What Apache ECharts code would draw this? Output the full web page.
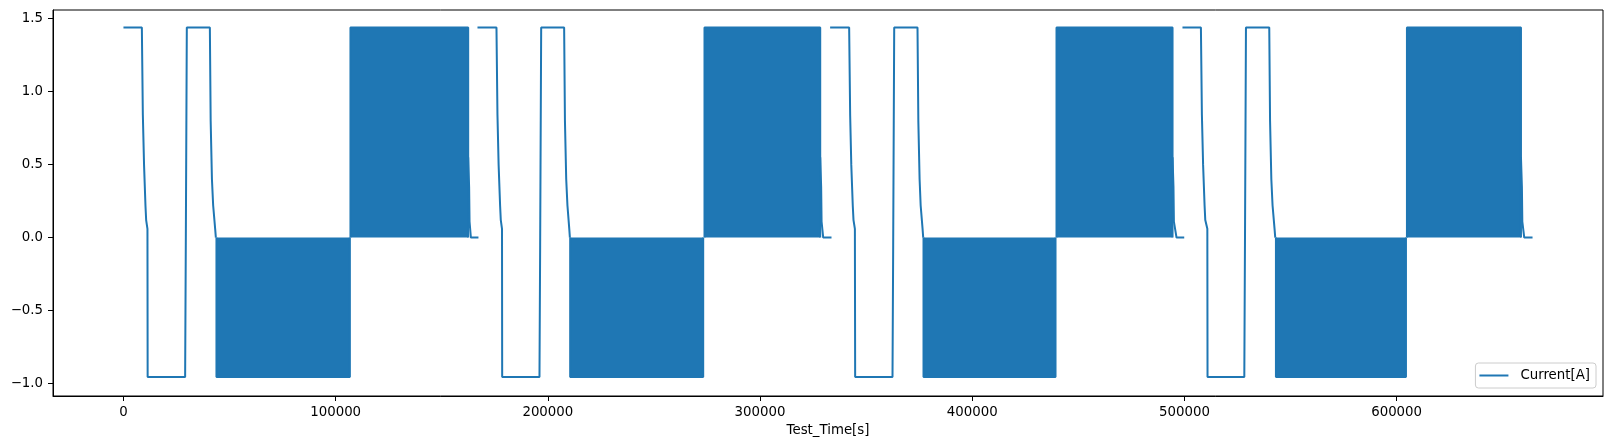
<!DOCTYPE html>
<html>
<head>
<meta charset="utf-8">
<script src="https://cdn.jsdelivr.net/npm/echarts@6/dist/echarts.min.js"></script>
<style>
  html, body { margin: 0; padding: 0; background: #fff; }
  #chart { width: 1613px; height: 448px; }
</style>
</head>
<body>
<div id="chart"></div>
<script>
// Tick labels
const xTicks = [0, 100000, 200000, 300000, 400000, 500000, 600000];
const yTicks = [-1.0, -0.5, 0.0, 0.5, 1.0, 1.5];

// Sparse (non-pulsed) parts of the Current[A] trace; null = break in the line
const lineTime = [
  // cycle 1
  0, 8670, 9140, 9700, 10370, 10700, 11310, 11400, 29070, 29380, 29860, 40720, 41100, 41700, 42280, 43220, 43550, 43830, 43830,
  162460, 162900, 163100, 163730, 167300, 167300,
  // cycle 2
  166840, 175790, 176260, 176800, 177500, 177830, 178400, 178480, 196060, 196380, 196860, 207680, 208060, 208660, 209240, 210100, 210390, 210530, 210530,
  328360, 328800, 329000, 329770, 333680, 333680,
  // cycle 3
  333030, 342000, 342470, 343000, 343700, 344050, 344700, 344830, 362430, 362750, 363230, 374210, 374600, 375200, 375700, 376600, 376900, 377040, 377040,
  494400, 494840, 495040, 496280, 499910, 499910,
  // cycle 4
  499080, 507770, 508240, 508800, 509500, 509830, 510800, 510890, 528220, 528530, 529000, 539980, 540360, 540960, 541540, 542480, 542800, 543130, 543130,
  658600, 659040, 659240, 660150, 664060
];
const lineCurrent = [
  1.44, 1.44, 0.84, 0.50, 0.22, 0.12, 0.06, -0.955, -0.955, -0.05, 1.44, 1.44, 0.80, 0.40, 0.22, 0.06, 0, 0, null,
  0.55, 0.35, 0.11, 0, 0, null,
  1.44, 1.44, 0.84, 0.50, 0.22, 0.12, 0.06, -0.955, -0.955, -0.05, 1.44, 1.44, 0.80, 0.40, 0.22, 0.06, 0, 0, null,
  0.55, 0.35, 0.11, 0, 0, null,
  1.44, 1.44, 0.84, 0.50, 0.22, 0.12, 0.06, -0.955, -0.955, -0.05, 1.44, 1.44, 0.80, 0.40, 0.22, 0.06, 0, 0, null,
  0.55, 0.35, 0.11, 0, 0, null,
  1.44, 1.44, 0.84, 0.50, 0.22, 0.12, 0.06, -0.955, -0.955, -0.05, 1.44, 1.44, 0.80, 0.40, 0.22, 0.06, 0, 0, null,
  0.55, 0.35, 0.11, 0, 0
];

// Densely pulsed periods (unresolvable at this scale: solid bands between 0 and the pulse level)
const pulseStart = [43830, 106980, 210530, 273830, 377040, 439720, 543130, 604870];
const pulseEnd   = [106700, 162460, 273210, 328360, 439250, 494400, 604400, 658600];
const pulseLevel = [-0.955, 1.44, -0.955, 1.44, -0.955, 1.44, -0.955, 1.44];

const COLOR = '#1f77b4';
const FONT = 'DejaVu Sans';
const FS = 13.33;

const mainData = lineTime.map((t, i) => [t, lineCurrent[i]]);

const series = [{
  name: 'Current[A]',
  type: 'line',
  data: mainData,
  showSymbol: false,
  connectNulls: false,
  sampling: null,
  lineStyle: { color: COLOR, width: 2 },
  itemStyle: { color: COLOR },
  z: 3
}];
pulseStart.forEach((s, i) => {
  series.push({
    name: 'Current[A]',
    type: 'line',
    data: [[s, 0], [s, pulseLevel[i]], [pulseEnd[i], pulseLevel[i]], [pulseEnd[i], 0]],
    showSymbol: false,
    lineStyle: { color: COLOR, width: 2 },
    itemStyle: { color: COLOR },
    areaStyle: { color: COLOR, opacity: 1, origin: 'auto' },
    z: 2
  });
});

const fmtY = v => (v < 0 ? '\u2212' : '') + Math.abs(v).toFixed(1);

const chart = echarts.init(document.getElementById('chart'), null, { renderer: 'canvas' });
chart.setOption({
  animation: false,
  backgroundColor: '#ffffff',
  grid: {
    left: 53, right: 10, top: 10, bottom: 52,
    show: true, borderColor: '#000', borderWidth: 1, backgroundColor: 'transparent',
    containLabel: false, outerBoundsMode: 'none'
  },
  legend: {
    data: ['Current[A]'],
    right: 17, bottom: 60,
    orient: 'horizontal',
    icon: 'rect',
    itemWidth: 29, itemHeight: 2,
    padding: [6, 6, 6, 4],
    borderColor: '#cccccc', borderWidth: 1, borderRadius: 3,
    backgroundColor: 'rgba(255,255,255,0.8)',
    textStyle: { fontFamily: FONT, fontSize: FS, color: '#000', padding: [0, 0, 0, 7] },
    itemStyle: { color: COLOR }
  },
  xAxis: {
    type: 'value',
    min: -33203, max: 697263,
    name: 'Test_Time[s]',
    nameLocation: 'middle',
    nameGap: 28,
    nameTextStyle: { fontFamily: FONT, fontSize: FS, color: '#000' },
    axisLine: { show: true, onZero: false, lineStyle: { color: '#000', width: 1 } },
    axisTick: { show: true, length: 5, customValues: xTicks, lineStyle: { color: '#000', width: 1 } },
    axisLabel: { customValues: xTicks, margin: 10, fontFamily: FONT, fontSize: FS, color: '#000', formatter: v => String(v) },
    splitLine: { show: false }
  },
  yAxis: {
    type: 'value',
    min: -1.0855, max: 1.5597,
    axisLine: { show: true, onZero: false, lineStyle: { color: '#000', width: 1 } },
    axisTick: { show: true, length: 5, customValues: yTicks, lineStyle: { color: '#000', width: 1 } },
    axisLabel: { customValues: yTicks, margin: 10, fontFamily: FONT, fontSize: FS, color: '#000', formatter: fmtY },
    splitLine: { show: false }
  },
  series: series
});
</script>
</body>
</html>
